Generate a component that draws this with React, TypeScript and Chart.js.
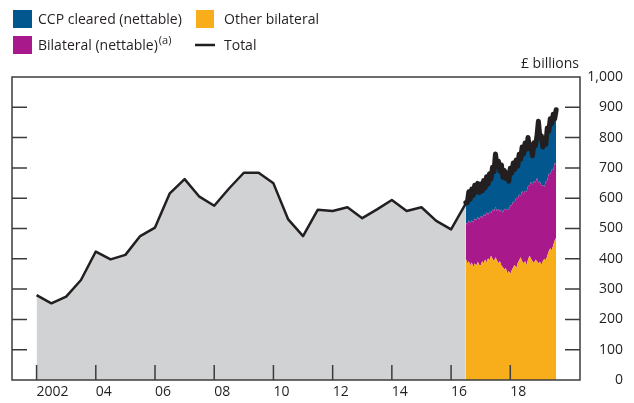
import React, { useEffect, useRef } from 'react';
import { Chart, registerables } from 'chart.js';
Chart.register(...registerables);

const FONT = '"Open Sans", "Noto Sans", sans-serif';

// Semi-annual total (pre-2016 H2)
const histYears = [2002.0, 2002.5, 2003.0, 2003.5, 2004.0, 2004.5, 2005.0, 2005.5, 2006.0, 2006.5, 2007.0, 2007.5, 2008.0, 2008.5, 2009.0, 2009.5, 2010.0, 2010.5, 2011.0, 2011.5, 2012.0, 2012.5, 2013.0, 2013.5, 2014.0, 2014.5, 2015.0, 2015.5, 2016.0, 2016.5];
const histTotal = [280, 253, 275, 330, 424, 398, 413, 475, 503, 616, 663, 605, 575, 632, 684, 684, 649, 530, 475, 562, 558, 570, 534, 563, 594, 558, 570, 525, 497, 583];

// High-frequency breakdown (2016 H2 onwards)
const recentDates = [2016.50, 2016.55, 2016.60, 2016.65, 2016.70, 2016.75, 2016.80, 2016.85, 2016.90, 2016.95, 2017.00, 2017.05, 2017.10, 2017.15, 2017.20, 2017.25, 2017.30, 2017.35, 2017.40, 2017.45, 2017.50, 2017.55, 2017.60, 2017.65, 2017.70, 2017.75, 2017.80, 2017.85, 2017.90, 2017.95, 2018.00, 2018.05, 2018.10, 2018.15, 2018.20, 2018.25, 2018.30, 2018.35, 2018.40, 2018.45, 2018.50, 2018.55, 2018.60, 2018.65, 2018.70, 2018.75, 2018.80, 2018.85, 2018.90, 2018.95, 2019.00, 2019.05, 2019.10, 2019.15, 2019.20, 2019.25, 2019.30, 2019.35, 2019.40, 2019.45, 2019.50, 2019.55];
const otherBilateral = [400, 385, 392, 378, 388, 372, 385, 376, 390, 380, 378, 392, 385, 398, 388, 402, 395, 410, 400, 392, 405, 395, 385, 392, 378, 372, 365, 370, 352, 360, 350, 362, 372, 380, 368, 385, 395, 405, 392, 385, 392, 380, 398, 410, 400, 392, 385, 398, 392, 385, 390, 380, 392, 400, 395, 410, 425, 435, 428, 445, 460, 470];
const bilateralNettable = [120, 128, 134, 140, 139, 148, 148, 151, 148, 150, 164, 142, 162, 143, 166, 143, 161, 140, 163, 165, 166, 163, 179, 164, 185, 180, 201, 190, 213, 202, 227, 213, 219, 207, 234, 212, 218, 203, 232, 230, 233, 242, 242, 232, 254, 253, 271, 254, 275, 266, 266, 260, 251, 239, 260, 249, 256, 245, 266, 249, 255, 244];
const ccpCleared = [65, 73, 95, 79, 103, 89, 110, 93, 111, 89, 105, 90, 111, 93, 117, 102, 125, 113, 139, 131, 175, 148, 158, 133, 147, 117, 126, 105, 118, 94, 122, 108, 125, 108, 124, 109, 132, 120, 145, 131, 157, 140, 160, 122, 122, 95, 127, 121, 136, 203, 145, 166, 126, 156, 123, 173, 140, 182, 152, 183, 147, 178];
const recentTotal = [585, 586, 621, 597, 630, 609, 643, 620, 649, 619, 647, 624, 658, 634, 671, 647, 681, 663, 702, 688, 746, 706, 722, 689, 710, 669, 692, 665, 683, 656, 699, 683, 716, 695, 726, 706, 745, 728, 769, 746, 782, 762, 800, 764, 776, 740, 783, 773, 803, 854, 801, 806, 769, 795, 778, 832, 821, 862, 846, 877, 862, 892];

const xTickYears = [2002, 2004, 2006, 2008, 2010, 2012, 2014, 2016, 2018];
const xTickLabels = ['2002', '04', '06', '08', '10', '12', '14', '16', '18'];
const yTicks = [0, 100, 200, 300, 400, 500, 600, 700, 800, 900, 1000];
const yTickLabels = ['0', '100', '200', '300', '400', '500', '600', '700', '800', '900', '1,000'];

const C_ORANGE = '#f8ae1b';
const C_MAGENTA = '#a8198c';
const C_BLUE = '#02578e';
const C_GREY = '#d1d2d4';
const C_LINE = '#231f20';
const C_TEXT = '#231f20';
const C_AXIS = '#3c3c3c';

const toXY = (xs: number[], ys: number[]) => xs.map((x, i) => ({ x, y: ys[i] }));

const decorPlugin = {
  id: 'decor',
  afterDatasetsDraw(chart: any) {
    const { ctx, chartArea: a, scales } = chart;
    const xs = scales.x, ys = scales.y;
    ctx.save();
    ctx.strokeStyle = C_AXIS;
    ctx.lineWidth = 1.5;
    ctx.beginPath();
    yTicks.forEach((v) => {
      if (v === 0 || v === 1000) return;
      const py = ys.getPixelForValue(v);
      ctx.moveTo(a.left, py); ctx.lineTo(a.left + 15, py);
      ctx.moveTo(a.right - 15, py); ctx.lineTo(a.right, py);
    });
    xTickYears.forEach((v) => {
      const px = xs.getPixelForValue(v);
      ctx.moveTo(px, a.bottom); ctx.lineTo(px, a.bottom - 15);
    });
    ctx.stroke();
    ctx.strokeRect(a.left, a.top, a.right - a.left, a.bottom - a.top);
    ctx.restore();
  },
  afterDraw(chart: any) {
    const { ctx, chartArea: a } = chart;
    ctx.save();
    ctx.fillStyle = C_TEXT;
    ctx.textBaseline = 'middle';
    ctx.font = `14px ${FONT}`;
    ctx.textAlign = 'right';
    ctx.fillText('£ billions', a.right - 1, 64);
    ctx.textAlign = 'left';
    // legend
    ctx.fillStyle = C_BLUE; ctx.fillRect(13, 10, 19, 18);
    ctx.fillStyle = C_MAGENTA; ctx.fillRect(13, 36, 19, 18);
    ctx.fillStyle = C_ORANGE; ctx.fillRect(196, 10, 18, 18);
    ctx.strokeStyle = C_LINE; ctx.lineWidth = 2.5;
    ctx.beginPath(); ctx.moveTo(195, 45); ctx.lineTo(215, 45); ctx.stroke();
    ctx.fillStyle = C_TEXT;
    ctx.fillText('CCP cleared (nettable)', 38, 20);
    ctx.fillText('Other bilateral', 224, 20);
    ctx.fillText('Total', 224, 46);
    const t = 'Bilateral (nettable)';
    ctx.fillText(t, 38, 46);
    const w = ctx.measureText(t).width;
    ctx.font = `11px ${FONT}`;
    ctx.fillText('(a)', 38 + w + 1, 41);
    ctx.restore();
  },
};

export default function App() {
  const ref = useRef<HTMLCanvasElement>(null);
  useEffect(() => {
    if (!ref.current) return;
    const chart = new Chart(ref.current, {
      type: 'line',
      data: {
        datasets: [
          { label: 'Total', data: toXY(recentDates, recentTotal), borderColor: C_LINE, borderWidth: 5, borderJoinStyle: 'round', borderCapStyle: 'round', pointRadius: 0, fill: false, stack: 'tot', order: 0, tension: 0 } as any,
          { label: 'Total (history)', data: toXY(histYears, histTotal), borderColor: C_LINE, backgroundColor: C_GREY, borderWidth: 2.5, borderJoinStyle: 'round', pointRadius: 0, fill: 'origin', stack: 'hist', order: 1, tension: 0 } as any,
          { label: 'Other bilateral', data: toXY(recentDates, otherBilateral), borderWidth: 0, backgroundColor: C_ORANGE, borderColor: C_ORANGE, pointRadius: 0, fill: 'origin', stack: 'brk', order: 2 } as any,
          { label: 'Bilateral (nettable)', data: toXY(recentDates, bilateralNettable), borderWidth: 0, backgroundColor: C_MAGENTA, borderColor: C_MAGENTA, pointRadius: 0, fill: '-1', stack: 'brk', order: 2 } as any,
          { label: 'CCP cleared (nettable)', data: toXY(recentDates, ccpCleared), borderWidth: 0, backgroundColor: C_BLUE, borderColor: C_BLUE, pointRadius: 0, fill: '-1', stack: 'brk', order: 2 } as any,
        ],
      },
      options: {
        animation: false,
        responsive: false,
        devicePixelRatio: 1,
        layout: { padding: { left: 12, top: 77, right: 11, bottom: 0 } },
        plugins: { legend: { display: false }, tooltip: { enabled: false } },
        scales: {
          x: {
            type: 'linear',
            position: 'bottom',
            min: 2001.17,
            max: 2020.355,
            grid: { display: false, drawTicks: false },
            border: { display: false },
            afterBuildTicks: (s: any) => { s.ticks = xTickYears.map((v) => ({ value: v })); },
            afterFit: (s: any) => { s.height = 23; },
            ticks: {
              align: 'start',
              padding: 4,
              maxRotation: 0,
              autoSkip: false,
              color: C_TEXT,
              font: { family: FONT, size: 14 },
              callback: (v: any) => xTickLabels[xTickYears.indexOf(Number(v))] ?? '',
            },
          },
          y: {
            type: 'linear',
            position: 'right',
            stacked: true,
            min: 0,
            max: 1000,
            grid: { display: false, drawTicks: false },
            border: { display: false },
            afterBuildTicks: (s: any) => { s.ticks = yTicks.map((v) => ({ value: v })); },
            afterFit: (s: any) => { s.width = 43; },
            ticks: {
              crossAlign: 'far',
              padding: 7,
              color: C_TEXT,
              font: { family: FONT, size: 14 },
              callback: (v: any) => yTickLabels[yTicks.indexOf(Number(v))] ?? '',
            },
          },
        },
      } as any,
      plugins: [decorPlugin],
    });
    return () => chart.destroy();
  }, []);
  return (
    <div style={{ position: 'fixed', left: 0, top: 0, width: 634, height: 403, background: '#fff' }}>
      <canvas ref={ref} width={634} height={403} style={{ display: 'block' }} />
    </div>
  );
}
